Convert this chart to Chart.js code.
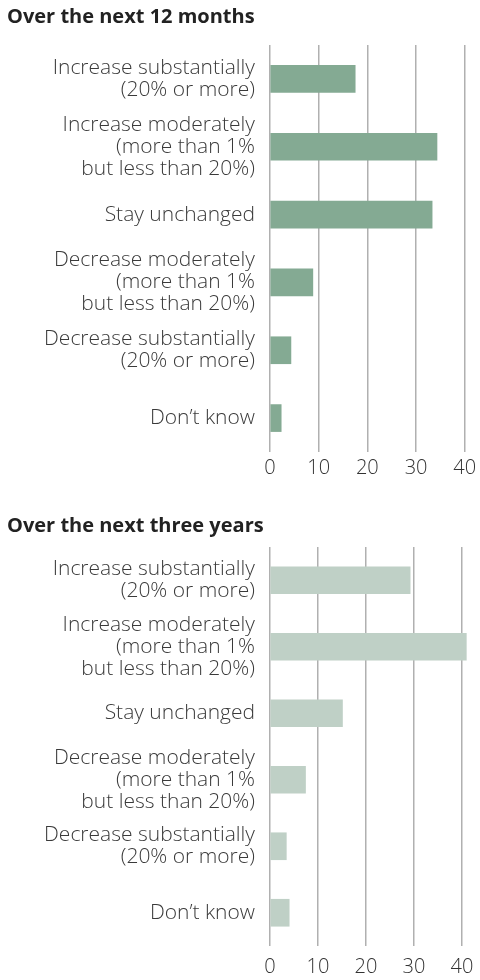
<!DOCTYPE html>
<html>
<head>
<meta charset="utf-8">
<script src="https://cdn.jsdelivr.net/npm/chart.js@4"></script>
<style>
  html, body { margin: 0; padding: 0; background: #fff; }
  .box { position: relative; width: 480px; }
  #b1 { height: 486px; }
  #b2 { height: 494px; }
</style>
</head>
<body>
<div class="box" id="b1"><canvas id="c1"></canvas></div>
<div class="box" id="b2"><canvas id="c2"></canvas></div>
<script>
const categories = [
  ["Increase substantially", "(20% or more)"],
  ["Increase moderately", "(more than 1%", "but less than 20%)"],
  "Stay unchanged",
  ["Decrease moderately", "(more than 1%", "but less than 20%)"],
  ["Decrease substantially", "(20% or more)"],
  "Don\u2019t know"
];
const next12Months = [17.5, 34.3, 33.3, 8.8, 4.3, 2.3];
const nextThreeYears = [29.2, 40.9, 15.1, 7.4, 3.4, 4.0];
const tickValues = [0, 10, 20, 30, 40];
const titles = ["Over the next 12 months", "Over the next three years"];

Chart.defaults.font.family = "'Open Sans', 'Noto Sans', sans-serif";

function makeChart(id, cfg) {
  return new Chart(document.getElementById(id), {
    type: 'bar',
    data: {
      labels: categories,
      datasets: [{
        data: cfg.values,
        backgroundColor: cfg.color,
        borderWidth: 0,
        barThickness: 27
      }]
    },
    options: {
      indexAxis: 'y',
      responsive: true,
      maintainAspectRatio: false,
      animation: false,
      layout: { padding: cfg.pad },
      plugins: {
        legend: { display: false },
        tooltip: { enabled: false },
        title: {
          display: true,
          text: cfg.title,
          align: 'start',
          color: '#222',
          font: { size: 20, weight: 'bold', lineHeight: 1.2 },
          padding: cfg.titlePad
        }
      },
      scales: {
        x: {
          min: 0,
          max: cfg.max,
          afterBuildTicks: s => { s.ticks = tickValues.map(v => ({ value: v })); },
          afterFit: s => { s.height = cfg.tickPad + 24; s.paddingLeft = 0; s.paddingRight = 0; },
          grid: { display: true, color: '#b0b0b0', lineWidth: 1.5, drawTicks: false },
          border: { display: false },
          ticks: { color: '#333', font: { size: 20, weight: 300, lineHeight: 1.1 }, padding: cfg.tickPad }
        },
        y: {
          afterFit: s => { s.width = 263; s.paddingTop = 0; s.paddingBottom = 0; },
          grid: { display: false, drawTicks: false },
          border: { display: false },
          ticks: { autoSkip: false, color: '#3a3a3a', font: { size: 21, weight: 300, lineHeight: 1.05 }, padding: 15 }
        }
      }
    }
  });
}

makeChart('c1', {
  title: titles[0], values: next12Months, color: 'rgb(132,170,147)',
  pad: { top: 5, left: 7, right: 6, bottom: 5 }, titlePad: { top: 0, bottom: 16 },
  max: 41.9, tickPad: 5
});
makeChart('c2', {
  title: titles[1], values: nextThreeYears, color: 'rgb(191,208,198)',
  pad: { top: 0, left: 7, right: 6, bottom: 0 }, titlePad: { top: 28, bottom: 9 },
  max: 42.5, tickPad: 10
});
</script>
</body>
</html>
